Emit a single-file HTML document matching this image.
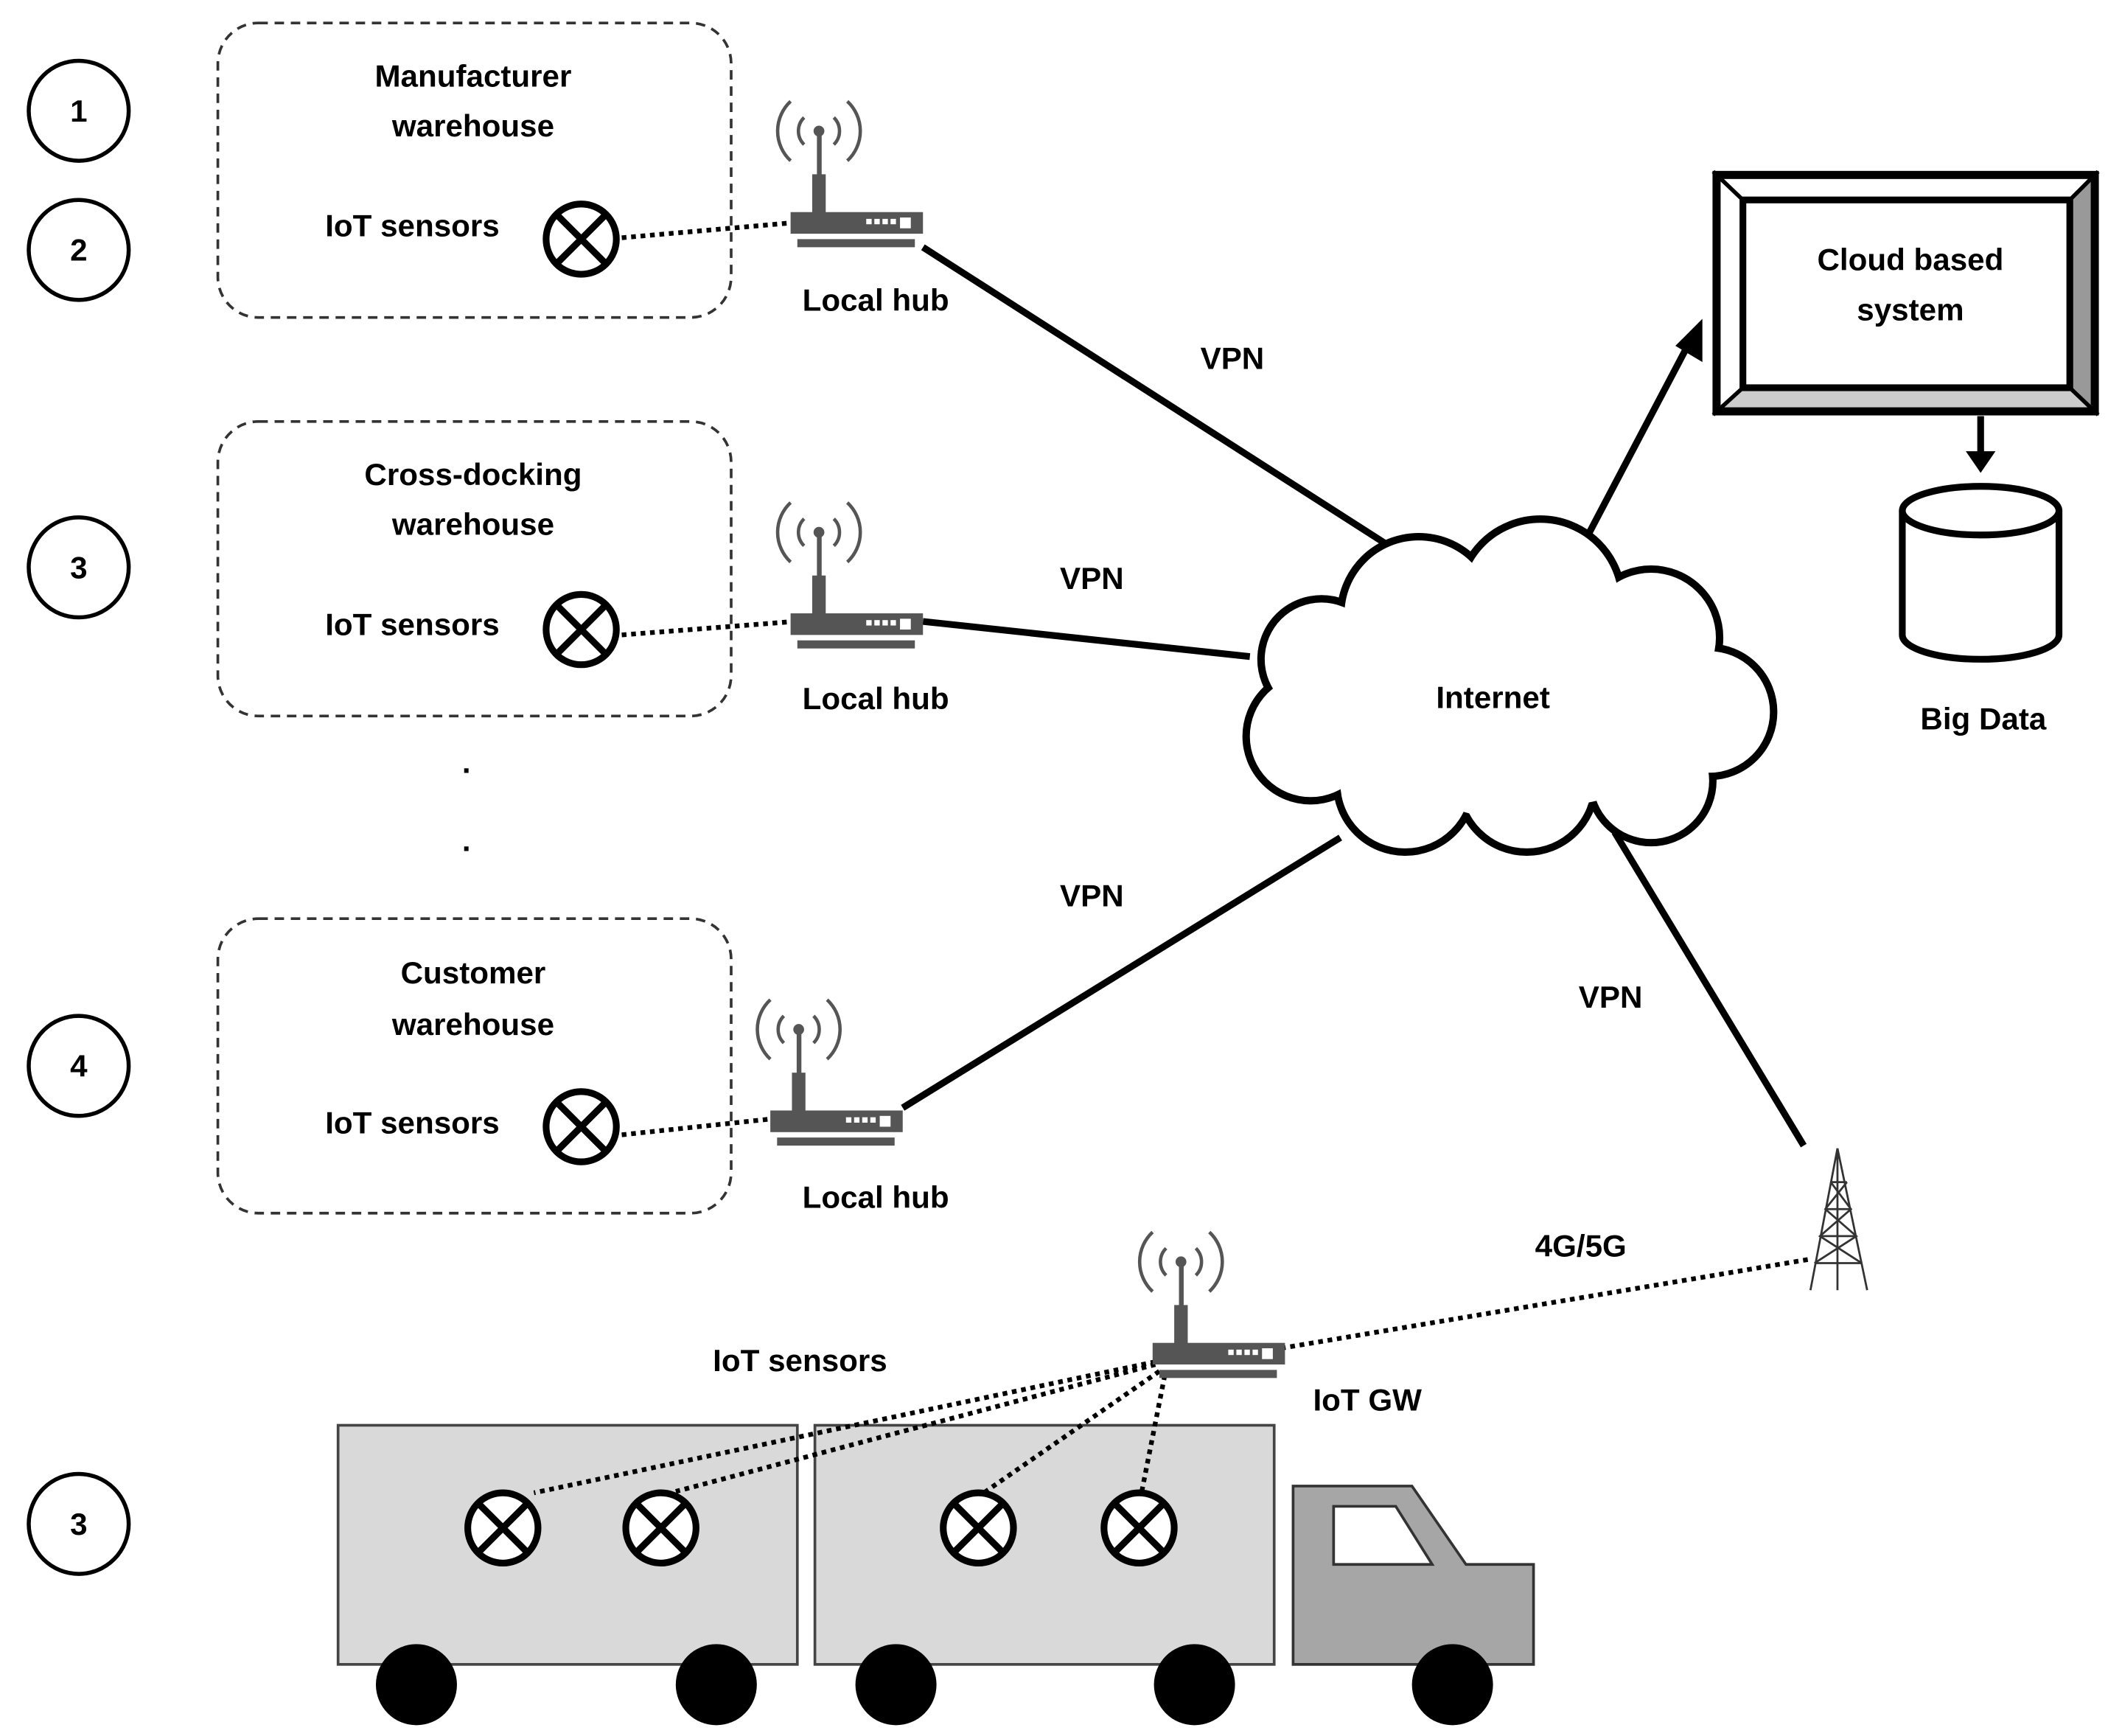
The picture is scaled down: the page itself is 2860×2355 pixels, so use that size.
<!DOCTYPE html>
<html><head><style>
html,body{margin:0;padding:0;background:#fff;}
svg{display:block}
text{font-family:"Liberation Sans",sans-serif;font-weight:bold;font-size:23px;fill:#000;text-anchor:middle}
</style></head><body>
<svg width="2860" height="2355" viewBox="0 0 1560 1285" xmlns="http://www.w3.org/2000/svg">
<defs>
<g id="router">
<rect x="0" y="0" width="98" height="16" fill="#555"/>
<rect x="5" y="20" width="87" height="6" fill="#555"/>
<rect x="16" y="-28" width="10" height="29" fill="#555"/>
<rect x="19.5" y="-60" width="3.5" height="33" fill="#555"/>
<circle cx="21" cy="-60" r="4" fill="#555"/>
<g fill="none" stroke="#555" stroke-width="2.5">
<path d="M10,-70 A14,14 0 0 0 10,-50"/><path d="M32,-70 A14,14 0 0 1 32,-50"/>
<path d="M0,-82 A30,30 0 0 0 0,-38"/><path d="M42,-82 A30,30 0 0 1 42,-38"/>
</g>
<rect x="56" y="5" width="4" height="4" fill="#fff"/><rect x="62" y="5" width="4" height="4" fill="#fff"/>
<rect x="68" y="5" width="4" height="4" fill="#fff"/><rect x="74" y="5" width="4" height="4" fill="#fff"/>
<rect x="81" y="4" width="8" height="8" fill="#fff"/>
</g>
<g id="sensor">
<circle cx="0" cy="0" r="26" fill="#fff" stroke="#000" stroke-width="5"/>
<path d="M-17,-17 L17,17 M17,-17 L-17,17" stroke="#000" stroke-width="5"/>
</g>
<g id="cl">
<circle cx="1050" cy="455" r="55"/><circle cx="1140" cy="445" r="58"/><circle cx="1222" cy="472" r="48"/>
<circle cx="1265" cy="527" r="45"/><circle cx="1222" cy="578" r="43"/><circle cx="1130" cy="580" r="48"/>
<circle cx="1040" cy="580" r="48"/><circle cx="970" cy="545" r="45"/><circle cx="978" cy="488" r="42"/>
<circle cx="1110" cy="515" r="90"/>
</g>
</defs>

<g fill="none" stroke="#000" stroke-width="3">
<circle cx="58" cy="82" r="37"/><circle cx="58" cy="185" r="37"/><circle cx="58" cy="420" r="37"/>
<circle cx="58" cy="789" r="37"/><circle cx="58" cy="1128" r="37"/>
</g>
<text x="58" y="90">1</text><text x="58" y="193">2</text><text x="58" y="428">3</text><text x="58" y="797">4</text><text x="58" y="1136">3</text>

<g fill="none" stroke="#333" stroke-width="2" stroke-dasharray="7,5">
<rect x="161" y="17" width="380" height="218" rx="30"/>
<rect x="161" y="312" width="380" height="218" rx="30"/>
<rect x="161" y="680" width="380" height="218" rx="30"/>
</g>
<text x="350" y="64">Manufacturer</text><text x="350" y="101">warehouse</text>
<text x="305" y="175">IoT sensors</text>
<text x="350" y="359">Cross-docking</text><text x="350" y="396">warehouse</text>
<text x="305" y="470">IoT sensors</text>
<text x="350" y="728">Customer</text><text x="350" y="766">warehouse</text>
<text x="305" y="839">IoT sensors</text>
<text x="345" y="572" font-size="20">.</text><text x="345" y="630" font-size="20">.</text>

<g stroke="#000" stroke-width="5" fill="none">
<line x1="683" y1="183" x2="1042" y2="413"/>
<line x1="683" y1="460" x2="925" y2="486"/>
<line x1="668" y1="820" x2="992" y2="620"/>
<line x1="1195" y1="616" x2="1335" y2="848"/>
<line x1="1168" y1="410" x2="1248" y2="258"/>
<line x1="1466" y1="308" x2="1466" y2="338"/>
</g>
<polygon points="1260,236 1260,268 1240,256" fill="#000"/>
<polygon points="1455,334 1477,334 1466,350" fill="#000"/>

<g stroke="#000" stroke-width="3.5" stroke-dasharray="3.5,3.5" fill="none">
<line x1="460" y1="176" x2="585" y2="165"/>
<line x1="460" y1="470" x2="588" y2="460"/>
<line x1="460" y1="840" x2="573" y2="828"/>
<line x1="948" y1="998" x2="1340" y2="932"/>
</g>

<!-- cloud -->
<use href="#cl" stroke="#000" stroke-width="11" fill="#000"/>
<use href="#cl" fill="#fff"/>
<ellipse cx="1115" cy="515" rx="165" ry="85" fill="#fff"/>
<text x="1105" y="524">Internet</text>

<rect x="1268" y="127" width="285" height="180" fill="#fff"/>
<polygon points="1532,148 1553,127 1553,307 1532,287" fill="#999"/>
<polygon points="1290,287 1532,287 1553,307 1268,307" fill="#ccc"/>
<g stroke="#000" stroke-width="3" fill="none">
<line x1="1268" y1="127" x2="1290" y2="148"/><line x1="1553" y1="127" x2="1532" y2="148"/>
<line x1="1268" y1="307" x2="1290" y2="287"/><line x1="1553" y1="307" x2="1532" y2="287"/>
</g>
<rect x="1270.5" y="129.5" width="280" height="175" fill="none" stroke="#000" stroke-width="6"/>
<rect x="1290" y="148" width="242" height="139" fill="#fff" stroke="#000" stroke-width="5"/>
<text x="1414" y="200">Cloud based</text><text x="1414" y="237">system</text>

<path d="M1408,378 L1408,470 A58,18 0 0 0 1524,470 L1524,378" fill="#fff" stroke="#000" stroke-width="5"/>
<ellipse cx="1466" cy="378" rx="58" ry="18" fill="#fff" stroke="#000" stroke-width="5"/>
<text x="1468" y="540">Big Data</text>

<text x="912" y="273">VPN</text><text x="808" y="436">VPN</text><text x="808" y="671">VPN</text><text x="1192" y="746">VPN</text>
<text x="1170" y="930">4G/5G</text>

<use href="#router" x="585" y="157"/>
<use href="#router" x="585" y="454"/>
<use href="#router" x="570" y="822"/>
<text x="648" y="230">Local hub</text><text x="648" y="525">Local hub</text><text x="648" y="894">Local hub</text>
<text x="1012" y="1044">IoT GW</text>
<text x="592" y="1015">IoT sensors</text>

<use href="#sensor" x="430" y="177"/>
<use href="#sensor" x="430" y="466"/>
<use href="#sensor" x="430" y="834"/>

<g stroke="#333" stroke-width="1.5" fill="none">
<path d="M1360,850 L1340,955 M1360,850 L1382,955 M1360,850 L1360,955"/>
<path d="M1355,875 L1367,875 M1351,895 L1370,895 M1347,915 L1374,915 M1343,935 L1378,935"/>
<path d="M1355,875 L1370,895 L1347,915 L1378,935 M1367,875 L1351,895 L1374,915 L1343,935"/>
</g>

<rect x="250" y="1055" width="340" height="177" fill="#d9d9d9" stroke="#444" stroke-width="2"/>
<rect x="603" y="1055" width="340" height="177" fill="#d9d9d9" stroke="#444" stroke-width="2"/>
<polygon points="957,1100 1045,1100 1085,1158 1135,1158 1135,1232 957,1232" fill="#a6a6a6" stroke="#333" stroke-width="2"/>
<polygon points="987,1115 1033,1115 1060,1158 987,1158" fill="#fff" stroke="#333" stroke-width="2"/>
<g fill="#000">
<circle cx="308" cy="1247" r="30"/><circle cx="530" cy="1247" r="30"/><circle cx="663" cy="1247" r="30"/>
<circle cx="884" cy="1247" r="30"/><circle cx="1075" cy="1247" r="30"/>
</g>
<g stroke="#000" stroke-width="3.5" stroke-dasharray="3.5,3.5" fill="none">
<line x1="855" y1="1008" x2="395" y2="1105"/>
<line x1="855" y1="1010" x2="500" y2="1104"/>
<line x1="858" y1="1015" x2="728" y2="1105"/>
<line x1="862" y1="1018" x2="845" y2="1104"/>
</g>
<use href="#router" x="853" y="994"/>
<use href="#sensor" x="372" y="1131"/>
<use href="#sensor" x="489" y="1131"/>
<use href="#sensor" x="724" y="1131"/>
<use href="#sensor" x="843" y="1131"/>
</svg>
</body></html>
